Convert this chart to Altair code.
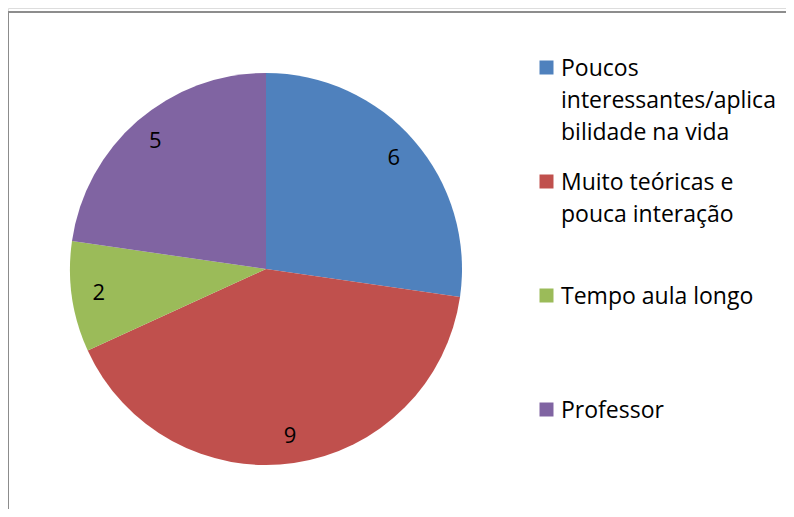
import altair as alt
import pandas as pd

categories = [
    "Poucos interessantes/aplicabilidade na vida",
    "Muito teóricas e pouca interação",
    "Tempo aula longo",
    "Professor",
]
values = [6, 9, 2, 5]
legend_lines = [
    ["Poucos", "interessantes/aplica", "bilidade na vida"],
    ["Muito teóricas e", "pouca interação"],
    ["Tempo aula longo"],
    ["Professor"],
]
colors = ["#4F81BD", "#C0504D", "#9BBB59", "#8064A2"]

df = pd.DataFrame({"cat": categories, "val": values, "ord": list(range(len(values)))})

expr = "datum.label"
for cat, lines in reversed(list(zip(categories, legend_lines))):
    arr = "[" + ",".join("'" + l + "'" for l in lines) + "]"
    expr = f"datum.label == '{cat}' ? {arr} : ({expr})"

FONT = "Open Sans"
W, H = 778, 501

base = alt.Chart(df)

pie = base.mark_arc(radius=196, strokeWidth=0).encode(
    theta=alt.Theta("val:Q", stack=True),
    order=alt.Order("ord:Q"),
    color=alt.Color(
        "cat:N",
        scale=alt.Scale(domain=categories, range=colors),
        sort=categories,
        legend=alt.Legend(
            orient="none",
            legendX=527,
            legendY=48,
            title=None,
            symbolType="square",
            symbolSize=196,
            symbolStrokeWidth=0,
            labelFont=FONT,
            labelFontSize=23,
            labelColor="#000000",
            labelLimit=300,
            labelBaseline="alphabetic",
            labelOffset=3,
            gridAlign="all",
            rowPadding=25,
            padding=0,
            labelExpr=expr,
        ),
    ),
    x=alt.value(258),
    y=alt.value(261),
)

labels = base.mark_text(radius=169, font=FONT, fontSize=22, color="#000000").encode(
    theta=alt.Theta("val:Q", stack=True),
    order=alt.Order("ord:Q"),
    text=alt.Text("val:Q"),
    x=alt.value(258),
    y=alt.value(261),
)

left = alt.Chart(df).mark_rule(color="#8c8c8c", strokeWidth=2).encode(
    x=alt.value(0), y=alt.value(4), y2=alt.value(H)
)
top = alt.Chart(df).mark_rule(color="#8c8c8c", strokeWidth=1.5).encode(
    x=alt.value(0), x2=alt.value(W), y=alt.value(4)
)

chart = (
    alt.layer(pie, labels, left, top)
    .properties(width=W, height=H, autosize=alt.AutoSizeParams(type="none"), padding=0)
    .configure_view(strokeWidth=0)
    .configure(style={"guide-label": {"lineHeight": 32, "dy": 8}})
)

chart.save("out.html", embed_options={"renderer": "svg", "actions": False})
